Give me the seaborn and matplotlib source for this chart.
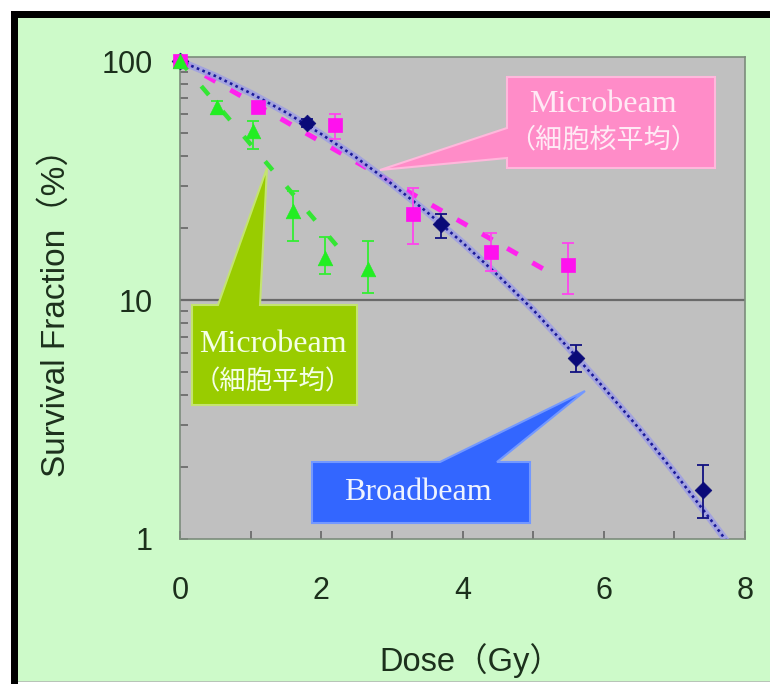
import matplotlib
matplotlib.use("Agg")
import matplotlib.pyplot as plt
import seaborn as sns
import pandas as pd
from matplotlib.patches import Rectangle, Polygon
from matplotlib.ticker import MultipleLocator, LogLocator, NullFormatter

# ---------------- data ----------------
broad_dose = [0.0, 1.8, 3.7, 5.6, 7.4]
broad_sf = [100, 55, 20.8, 5.7, 1.6]
broad_lo = [100, 53, 18.2, 5.0, 1.22]
broad_hi = [100, 57, 22.9, 6.5, 2.05]

nuc_dose = [0.0, 1.1, 2.2, 3.3, 4.4, 5.5]
nuc_sf = [100, 64, 54, 23, 15.9, 14.0]
nuc_lo = [100, 61, 47, 17.2, 13.2, 10.6]
nuc_hi = [100, 67, 60, 29.4, 19.1, 17.3]

cell_dose = [0.0, 0.52, 1.03, 1.6, 2.05, 2.66]
cell_sf = [100, 64, 51, 23.5, 15.0, 13.5]
cell_lo = [100, 60, 43, 17.6, 12.8, 10.7]
cell_hi = [100, 68, 56, 28.6, 18.3, 17.7]

broad_fit_dose = [0, 0.5, 1, 1.5, 2, 2.5, 3, 3.5, 4, 4.5, 5, 5.5, 6, 6.5, 7, 7.5, 7.75]
broad_fit_sf = [100, 86.6, 73.4, 61, 49.5, 39.4, 30.6, 23.3, 17.4, 12.7, 9.1, 6.3, 4.3, 2.9, 1.9, 1.22, 0.97]
nuc_fit_dose = [0.0, 5.2]
nuc_fit_sf = [100, 13.2]
cell_fit_dose = [0.0, 2.35]
cell_fit_sf = [100, 15.2]

x_ticks = [0, 2, 4, 6, 8]
y_ticks = [1, 10, 100]
y_tick_labels = ["1", "10", "100"]

x_label = "Dose（Gy）"
y_label = "Survival Fraction（%）"
nuc_title = ["Microbeam", "（細胞核平均）"]
cell_title = ["Microbeam", "（細胞平均）"]
broad_title = "Broadbeam"

# ---------------- styling ----------------
sns.set_style("ticks")
plt.rcParams["font.family"] = ["Liberation Sans", "Noto Sans CJK JP"]

W, H = 770, 684
fig = plt.figure(figsize=(W / 100, H / 100), dpi=100)
fig.patch.set_facecolor("white")


def P(x, y):
    return (x / W, 1 - y / H)


def frame_rect(x0, y0, x1, y1, color, z):
    fig.add_artist(Rectangle(P(x0, y1), (x1 - x0) / W, (y1 - y0) / H,
                             transform=fig.transFigure, facecolor=color,
                             edgecolor="none", zorder=z))


# frame: black bands on top and left, light green panel
frame_rect(11, 11, W, 18, "black", -10)
frame_rect(11, 11, 18, H, "black", -10)
frame_rect(18, 18, W, 681, "#cdfac9", -9)
frame_rect(18, 681, W, 682, "#b8c4b8", -9)

ax = fig.add_axes([180 / W, 1 - 539 / H, 565 / W, 482 / H])
ax.set_facecolor("#c0c0c0")
ax.set_yscale("log")
ax.set_xlim(0, 8)
ax.set_ylim(1, 104)

# reference line at 10 %
ax.axhline(y_ticks[1], color="#6a6a6a", lw=1.6, zorder=1)

# ---------------- fitted curves ----------------
sns.lineplot(x=nuc_fit_dose, y=nuc_fit_sf, ax=ax, color="#ff22ee", lw=3.6,
             linestyle=(0, (2.4, 3.4)), zorder=3)
sns.lineplot(x=cell_fit_dose, y=cell_fit_sf, ax=ax, color="#33e633", lw=3.2,
             linestyle=(0, (2.6, 4.8)), zorder=3)
sns.lineplot(x=broad_fit_dose, y=broad_fit_sf, ax=ax, color="#9c9ce6", lw=5,
             alpha=0.8, zorder=4)
sns.lineplot(x=broad_fit_dose, y=broad_fit_sf, ax=ax, color="#1a1a9a", lw=1.9,
             linestyle=(0, (1.0, 1.3)), zorder=4)

# ---------------- error bars ----------------
def errbars(d, v, lo, hi, color):
    yerr = [[vv - l for vv, l in zip(v, lo)], [h - vv for vv, h in zip(v, hi)]]
    ax.errorbar(d, v, yerr=yerr, fmt="none", ecolor=color, elinewidth=1.3,
                capsize=4, capthick=1.3, zorder=5)


errbars(broad_dose, broad_sf, broad_lo, broad_hi, "#101080")
errbars(nuc_dose, nuc_sf, nuc_lo, nuc_hi, "#ff44ee")
errbars(cell_dose, cell_sf, cell_lo, cell_hi, "#33ee33")

# ---------------- markers ----------------
df_b = pd.DataFrame({"dose": broad_dose, "sf": broad_sf})
df_n = pd.DataFrame({"dose": nuc_dose, "sf": nuc_sf})
df_c = pd.DataFrame({"dose": cell_dose, "sf": cell_sf})
sns.scatterplot(data=df_b, x="dose", y="sf", ax=ax, marker="D", s=8.5 ** 2,
                color="#0a0a78", edgecolor="#0a0a78", linewidth=0.5, zorder=6, clip_on=False)
sns.scatterplot(data=df_n, x="dose", y="sf", ax=ax, marker="s", s=10.5 ** 2,
                color="#ff11ee", edgecolor="#ff11ee", linewidth=0.5, zorder=6, clip_on=False)
sns.scatterplot(data=df_c, x="dose", y="sf", ax=ax, marker="^", s=10.5 ** 2,
                color="#22ee22", edgecolor="#22ee22", linewidth=0.5, zorder=6, clip_on=False)

# ---------------- axes ----------------
ax.set_xticks(x_ticks)
ax.set_xticklabels([str(t) for t in x_ticks])
ax.xaxis.set_minor_locator(MultipleLocator(1))
ax.set_yticks(y_ticks)
ax.set_yticklabels(y_tick_labels)
ax.yaxis.set_minor_locator(LogLocator(base=10, subs=[2, 3, 4, 5, 6, 7, 8, 9]))
ax.yaxis.set_minor_formatter(NullFormatter())

label_color = "#1c301c"
ax.tick_params(which="both", direction="in", length=6, width=1.1, color="#5e5e5e")
ax.tick_params(axis="x", which="major", labelsize=22, labelcolor=label_color, pad=26.5)
ax.tick_params(axis="y", which="major", labelsize=22, labelcolor=label_color, pad=19.5)
for s in ax.spines.values():
    s.set_color("#7c8c7c")
    s.set_linewidth(1.2)

ax.set_xlabel(x_label, fontsize=23.5, color=label_color, va="center")
ax.xaxis.set_label_coords((471 - 180) / 565, (539 - 661) / 482)
ax.set_ylabel(y_label, fontsize=24, color=label_color, va="center")
ax.yaxis.set_label_coords((56 - 180) / 565, (539 - 305) / 482)

# ---------------- callouts ----------------
def callout(pts, face, edge):
    poly = Polygon([P(x, y) for x, y in pts], closed=True, transform=fig.transFigure,
                   facecolor=face, edgecolor=edge, linewidth=1.5, zorder=8)
    fig.add_artist(poly)


callout([(507, 77), (715, 77), (715, 168), (507, 168), (507, 158), (380, 170), (507, 128)],
        "#ff8cc8", "#ffb8dc")
callout([(192, 305), (218, 305), (267, 168), (260, 305), (357, 305), (357, 405), (192, 405)],
        "#99cc00", "#c4e470")
callout([(312, 462), (440, 462), (585, 391), (497, 462), (530, 462), (530, 523), (312, 523)],
        "#3366ff", "#7398ff")

serif = ["Liberation Serif", "Noto Sans CJK JP"]
cjk = ["Noto Sans CJK JP", "DejaVu Sans"]

fig.text(*P(603, 104), nuc_title[0], family=serif, fontsize=23, color="#ffeaf5",
         ha="center", va="center", zorder=9)
fig.text(*P(603, 140), nuc_title[1], family=cjk, fontsize=19.5, color="#ffeaf5",
         ha="center", va="center", zorder=9)
fig.text(*P(273, 344), cell_title[0], family=serif, fontsize=23, color="#f4ffe6",
         ha="center", va="center", zorder=9)
fig.text(*P(273, 382), cell_title[1], family=cjk, fontsize=19, color="#f4ffe6",
         ha="center", va="center", zorder=9)
fig.text(*P(418, 492), broad_title, family=serif, fontsize=23, color="#eef3ff",
         ha="center", va="center", zorder=9)

fig.savefig("out.png", dpi=100, facecolor=fig.get_facecolor())
